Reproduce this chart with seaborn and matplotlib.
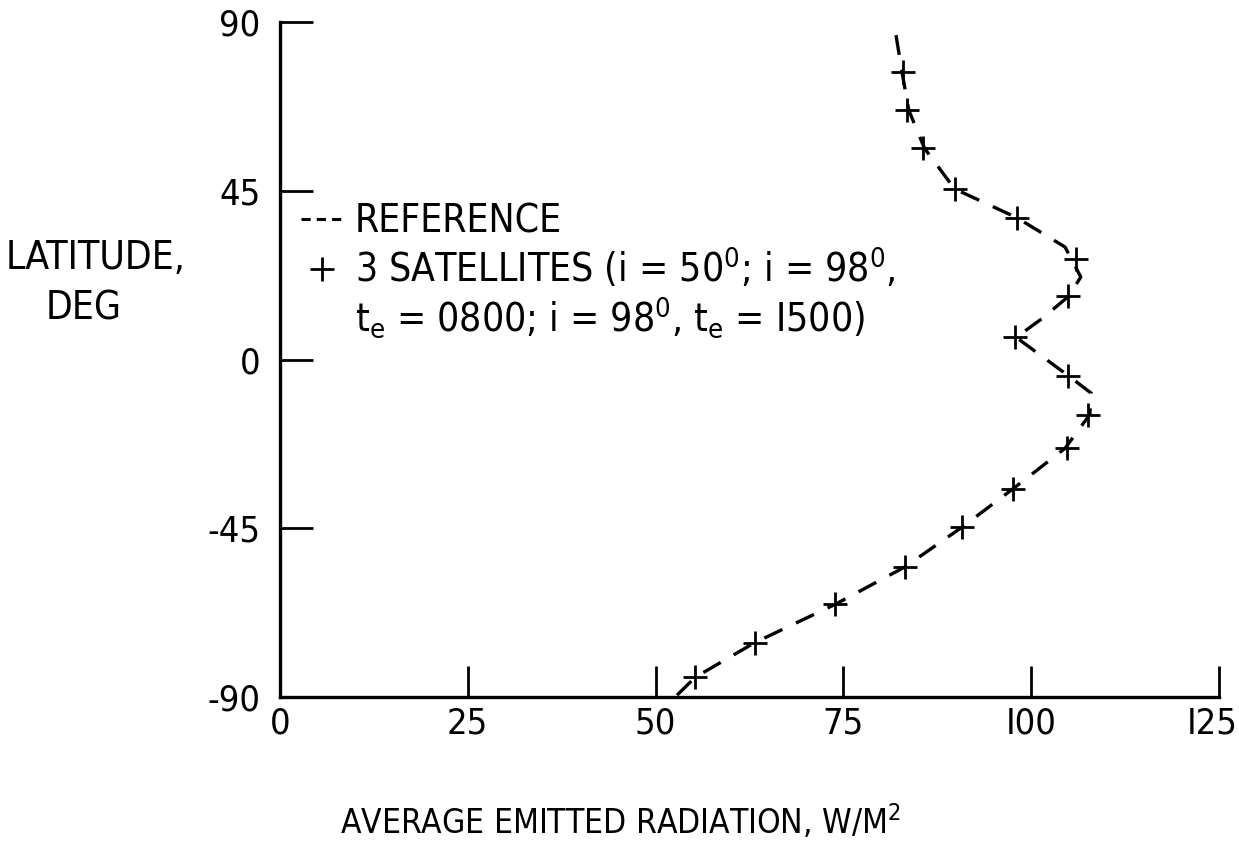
import matplotlib
matplotlib.use("Agg")
import matplotlib.pyplot as plt
import matplotlib.transforms as mtransforms
from matplotlib import font_manager
from matplotlib.lines import Line2D
import seaborn as sns
import pandas as pd

# ---- data ----
sat_lat = [76.7, 66.5, 56.3, 45.5, 37.8, 26.8, 16.9, 5.9, -4.4, -14.7,
           -23.7, -34.6, -44.7, -55.3, -65.3, -75.5, -84.7]
sat_rad = [83.0, 83.5, 85.6, 89.9, 98.1, 105.9, 104.9, 97.9, 104.9, 107.6,
           104.8, 97.6, 90.8, 83.2, 73.9, 63.2, 55.3]

ref_lat = [86.5, 76.7, 66.5, 56.3, 45.5, 37.8, 30.0, 22.0, 16.9, 11.0, 5.9,
           -4.4, -9.0, -14.7, -23.7, -34.6, -44.7, -55.3, -65.3, -75.5, -84.7, -90.0]
ref_rad = [82.0, 82.8, 83.7, 85.8, 89.8, 98.1, 104.5, 106.6, 105.0, 101.5, 98.0,
           105.0, 108.0, 107.8, 104.5, 97.5, 90.8, 83.2, 73.9, 63.2, 55.3, 52.6]

x_ticks = [0, 25, 50, 75, 100, 125]
y_ticks = [-90, -45, 0, 45, 90]
x_tick_labels = ["0", "25", "50", "75", "I00", "I25"]

ref_label = "REFERENCE"
sat_label_1 = "3 SATELLITES (i = 50$^0$; i = 98$^0$,"
sat_label_2 = "t$_e$ = 0800; i = 98$^0$, t$_e$ = I500)"
x_label = "AVERAGE EMITTED RADIATION, W/M$^2$"
y_label_1 = "LATITUDE,"
y_label_2 = "DEG"

# ---- style ----
sns.set_theme(style="white")
names = {f.name for f in font_manager.fontManager.ttflist}
if "Liberation Sans Narrow" in names:
    fam = "Liberation Sans Narrow"
    stretch = "normal"
else:
    fam = "DejaVu Sans"
    stretch = "condensed"
plt.rcParams["font.family"] = [fam, "DejaVu Sans"]
plt.rcParams["font.stretch"] = stretch
plt.rcParams["axes.unicode_minus"] = False
plt.rcParams["mathtext.fontset"] = "custom"
plt.rcParams["mathtext.rm"] = fam
plt.rcParams["mathtext.it"] = fam
plt.rcParams["mathtext.bf"] = fam
plt.rcParams["mathtext.default"] = "rm"
plt.rcParams["text.color"] = "black"

fig = plt.figure(figsize=(12.39, 8.65), dpi=100)
fig.patch.set_facecolor("white")
ax = fig.add_axes([280 / 1239, 1 - 697 / 865, (1219 - 280) / 1239, (697 - 22) / 865])
ax.set_facecolor("white")

ref_df = pd.DataFrame({"rad": ref_rad, "lat": ref_lat})
sat_df = pd.DataFrame({"rad": sat_rad, "lat": sat_lat})

sns.lineplot(data=ref_df, x="rad", y="lat", sort=False, estimator=None, ax=ax,
             color="black", linewidth=2.4, linestyle=(0, (6, 4.5)))
sns.scatterplot(data=sat_df, x="rad", y="lat", ax=ax, marker="+", s=300,
                color="black", linewidth=2.0, zorder=3)

ax.set_xlim(0, 125)
ax.set_ylim(-90, 90)
ax.set_xticks(x_ticks)
ax.set_xticklabels(x_tick_labels)
ax.set_yticks(y_ticks)
ax.set_xlabel("")
ax.set_ylabel("")

sns.despine(ax=ax, top=True, right=True)
for s in ("left", "bottom"):
    ax.spines[s].set_color("black")
    ax.spines[s].set_linewidth(2.4)

ax.tick_params(axis="x", direction="in", length=22, width=2, colors="black",
               labelsize=26, pad=7, bottom=True)
ax.tick_params(axis="y", direction="in", length=24, width=2, colors="black",
               labelsize=26, pad=14, left=True)

# nudge the last x tick label so it stays inside the figure
last = ax.get_xticklabels()[-1]
last.set_transform(last.get_transform() +
                   mtransforms.ScaledTranslation(-7 / 100, 0, fig.dpi_scale_trans))

# legend
h_ref = Line2D([], [], color="black", linewidth=2.2, linestyle=(0, (3, 2)))
h_sat = Line2D([], [], color="black", linestyle="none", marker="+",
               markersize=17, markeredgewidth=2.0)
h_blank = Line2D([], [], linestyle="none")
leg = ax.legend([h_ref, h_sat, h_blank], [ref_label, sat_label_1, sat_label_2],
                loc="upper left", bbox_to_anchor=(0.022, 0.732), frameon=False,
                fontsize=28, handlelength=1.1, handletextpad=0.3,
                labelspacing=0.12, borderaxespad=0, borderpad=0)
for t in leg.get_texts():
    t.set_color("black")

# axis labels as placed in the reference
fig.text(96 / 1239, 1 - 258 / 865, y_label_1, ha="center", va="center",
         fontsize=28, color="black")
fig.text(84 / 1239, 1 - 308 / 865, y_label_2, ha="center", va="center",
         fontsize=28, color="black")
fig.text(620 / 1239, 1 - 822 / 865, x_label, ha="center", va="center",
         fontsize=24, color="black")

fig.savefig("out.png", dpi=100, facecolor="white")
